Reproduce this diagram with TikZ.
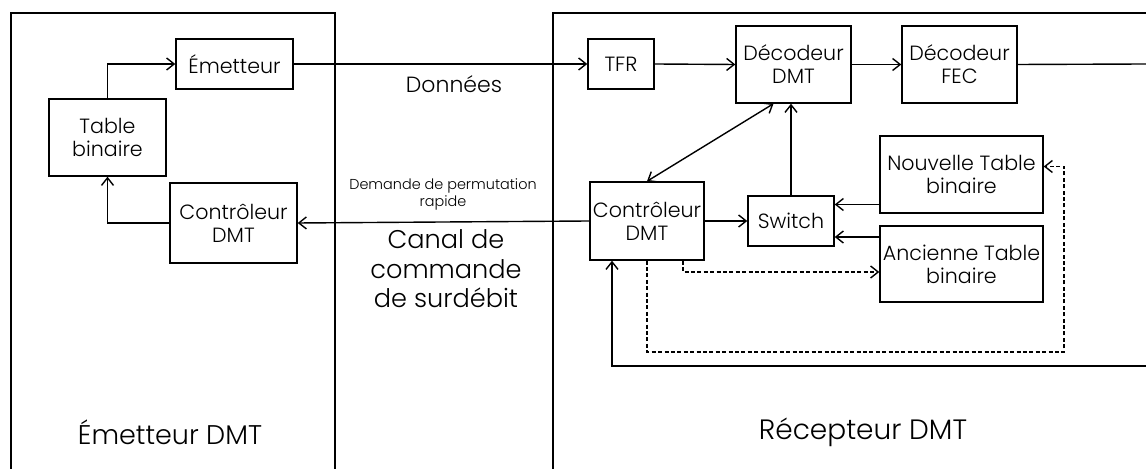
\documentclass[tikz,border=0pt]{standalone}
\usepackage{fontspec}
\usetikzlibrary{arrows.meta}
\setmainfont{Poppins}[UprightFont=* Light]
\begin{document}
\begin{tikzpicture}[x=.5pt,y=-.5pt,line width=.7pt,>={Straight Barb[length=3.8pt,width=6pt]},
	blk/.style={draw,align=center,inner sep=0pt,font=\fontsize{10.3}{11.5}\selectfont},
	dsh/.style={dash pattern=on 2pt off 1.2pt}]
	\useasboundingbox(0,0)rectangle(1146,469);
	\draw(11,469)--(11,13)--(335,13)--(335,469);
	\draw(553,469)--(553,13)--(1146,13);
	\node[blk,minimum width=58.5pt,minimum height=25pt](emet)at(234.5,64){Émetteur};
	\node[blk,minimum width=58.5pt,minimum height=38.5pt](tbin)at(107.5,137.5){Table\\binaire};
	\node[blk,minimum width=63.5pt,minimum height=40pt](ctrlL)at(233.5,223){Contrôleur\\DMT};
	\node[blk,minimum width=33pt,minimum height=25pt](tfr)at(621,64){TFR};
	\node[blk,minimum width=57.5pt,minimum height=38.5pt](ddmt)at(793.5,64.5){Décodeur\\DMT};
	\node[blk,minimum width=57.5pt,minimum height=38.5pt](dfec)at(959.5,64.5){Décodeur\\FEC};
	\node[blk,minimum width=81.5pt,minimum height=38.5pt](ntab)at(961.5,174.5){Nouvelle Table\\binaire};
	\node[blk,minimum width=81.5pt,minimum height=38pt](atab)at(961.5,264){Ancienne Table\\binaire};
	\node[blk,minimum width=43pt,minimum height=25pt](sw)at(791,221){Switch};
	\node[blk,minimum width=57pt,minimum height=39pt](ctrlR)at(647,221){Contrôleur\\DMT};
	\node[font=\fontsize{11}{13}\selectfont](don)at(454,84){Données};
	\node[align=center,font=\fontsize{7.2}{8.5}\selectfont](dem)at(443,194){Demande de permutation\\rapide};
	\node[align=center,font=\fontsize{12.8}{14.8}\selectfont](can)at(446,269){Canal de\\commande\\de surdébit};
	\node[font=\fontsize{13.5}{16}\selectfont](emL)at(170,432){Émetteur DMT};
	\node[font=\fontsize{14}{16}\selectfont](recL)at(863,432){Récepteur DMT};
	\coordinate(fecOut)at(1146,64);
	\coordinate(retR)at(1146,366);
	\coordinate(dlow)at(1064,352);
	\coordinate(nIn)at([yshift=-15pt]ntab.west);
	\coordinate(aIn)at([yshift=13.5pt]atab.west);
	\draw[->](tbin.north)|-(emet.west);
	\draw[->](ctrlL.west)-|(tbin.south);
	\draw[->](emet.east)--(tfr.west);
	\draw[->](tfr.east)--(ddmt.west);
	\draw[->](ddmt.east)--(dfec.west);
	\draw(dfec.east)--(fecOut);
	\draw[->](ctrlR.west)--(ctrlL.east);
	\draw[->](ctrlR.east)--(sw.west);
	\draw[->](sw.north)--(sw.north|-ddmt.south);
	\draw[<->]([xshift=-10pt]ddmt.south)--(ctrlR.north);
	\draw[->](nIn)--(nIn-|sw.east);
	\draw[->](aIn)--(aIn-|sw.east);
	\draw[dsh,->]([xshift=18pt]ctrlR.south)|-([yshift=-4pt]atab.west);
	\draw[dsh,->](ctrlR.south)|-(dlow)|-([yshift=4pt]ntab.east);
	\draw[->](retR)-|([xshift=-17.5pt]ctrlR.south);
\end{tikzpicture}
\end{document}
